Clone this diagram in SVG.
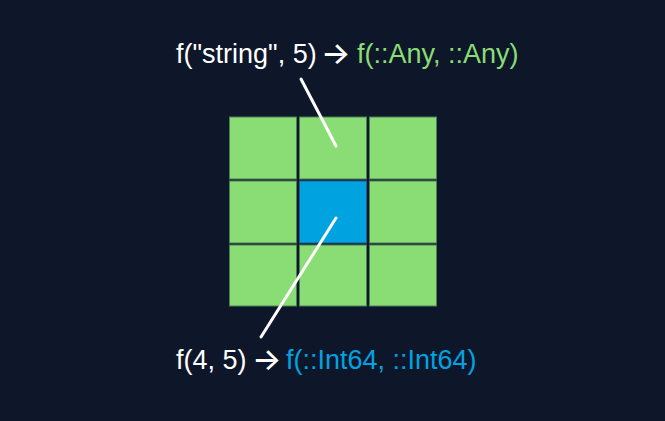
<svg xmlns="http://www.w3.org/2000/svg" width="665" height="421" viewBox="0 0 665 421">
<style>
.cell{fill:#89dd74;stroke:#4a7f55;stroke-width:1}
.blue{fill:#00a3e0;stroke:#1a5f8a;stroke-width:1}
.t{font-family:"Liberation Sans",Arial,sans-serif;font-size:27px;fill:#ffffff}
.ar{font-family:Inter,sans-serif;font-size:31px;font-weight:500}
.g{fill:#89dd74}
.b{fill:#00a3e0}
.ln{stroke:#ffffff;stroke-width:3;stroke-linecap:round;fill:none}
</style>
<rect width="665" height="421" fill="#0e1629"/>
<g id="grid">
<rect id="c00" class="cell" x="229.5" y="117" width="67" height="62"/>
<rect id="c01" class="cell" x="299.5" y="117" width="67" height="62"/>
<rect id="c02" class="cell" x="369.5" y="117" width="67" height="62"/>
<rect id="c10" class="cell" x="229.5" y="181" width="67" height="62"/>
<rect id="c11" class="blue" x="299.5" y="181" width="67" height="62"/>
<rect id="c12" class="cell" x="369.5" y="181" width="67" height="62"/>
<rect id="c20" class="cell" x="229.5" y="245" width="67" height="61"/>
<rect id="c21" class="cell" x="299.5" y="245" width="67" height="61"/>
<rect id="c22" class="cell" x="369.5" y="245" width="67" height="61"/>
</g>
<g id="connectors">
<line class="ln" x1="301" y1="79" x2="336" y2="146"/>
<line class="ln" x1="336" y1="218" x2="261" y2="337"/>
</g>
<g id="label-top">
<text class="t" y="63"><tspan x="176">f("string", 5)</tspan><tspan class="ar" x="321" dy="1">→</tspan><tspan class="g" x="357" dy="-1">f(::Any, ::Any)</tspan></text>
</g>
<g id="label-bottom">
<text class="t" y="369"><tspan x="176">f(4, 5)</tspan><tspan class="ar" x="252" dy="1">→</tspan><tspan class="b" x="286" dy="-1">f(::Int64, ::Int64)</tspan></text>
</g>
</svg>
